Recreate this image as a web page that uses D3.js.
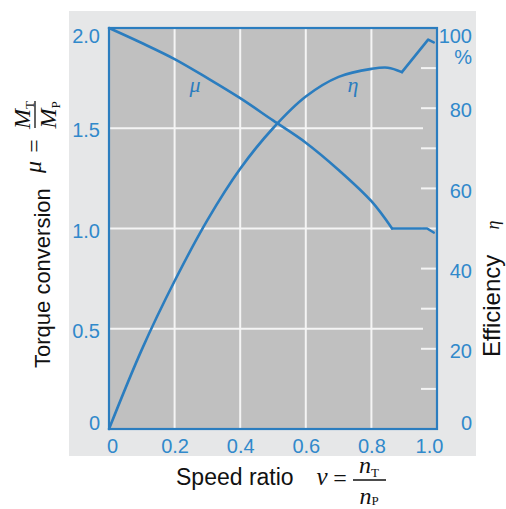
<!DOCTYPE html>
<html><head><meta charset="utf-8">
<script src="https://cdn.jsdelivr.net/npm/d3@7"></script>
<style>html,body{margin:0;padding:0;background:#fff;}svg{display:block;}</style>
</head><body>
<svg id="chart" width="506" height="509"></svg>
<script>
// ---- data ----
const muSpeed = [0, 0.1, 0.2, 0.3, 0.4, 0.5, 0.6, 0.7, 0.8, 0.863, 0.97, 0.99];
const muValues = [2.0, 1.925, 1.845, 1.75, 1.65, 1.539, 1.428, 1.292, 1.136, 1.0, 1.0, 0.98];
const muKink = 9; // index where smooth part ends
const etaSpeed = [0, 0.1, 0.2, 0.3, 0.4, 0.5, 0.6, 0.7, 0.8, 0.85, 0.893, 0.973, 0.99];
const etaValues = [0, 19.8, 36.9, 52.1, 64.9, 75.0, 82.9, 87.8, 89.8, 90.1, 89, 97.1, 96.4];
const etaKink = 10;
const xTicks = [0, 0.2, 0.4, 0.6, 0.8, 1.0];
const xTickLabels = ["0", "0.2", "0.4", "0.6", "0.8", "1.0"];
const leftTicks = [0, 0.5, 1.0, 1.5, 2.0];
const leftTickLabels = ["0", "0.5", "1.0", "1.5", "2.0"];
const rightTicks = [0, 20, 40, 60, 80, 100];
const rightTickLabels = ["0", "20", "40", "60", "80", "100"];
const rightMinorTicks = [10, 20, 30, 40, 50, 60, 70, 80, 90];

const BLUE = "#2b7dbf", TEXTBLUE = "#3189cb";
const svg = d3.select("#chart");
const x = d3.scaleLinear().domain([0, 1]).range([109, 437]);
const yL = d3.scaleLinear().domain([0, 2]).range([429, 28]);
const yR = d3.scaleLinear().domain([0, 100]).range([429, 28]);

// panel
svg.append("rect").attr("x", 69).attr("y", 11).attr("width", 407).attr("height", 445).attr("fill", "#e6e7e8");
svg.append("rect").attr("x", x(0)).attr("y", yL(2)).attr("width", x(1) - x(0)).attr("height", yL(0) - yL(2)).attr("fill", "#c0c0c0");

// grid
const grid = svg.append("g").attr("stroke", "#f4f4f4").attr("stroke-width", 2);
grid.selectAll(".vx").data(xTicks.slice(1, -1)).enter().append("line")
  .attr("x1", d => x(d)).attr("x2", d => x(d)).attr("y1", yL(2)).attr("y2", yL(0));
grid.selectAll(".hy").data(leftTicks.slice(1, -1)).enter().append("line")
  .attr("x1", x(0)).attr("x2", 423).attr("y1", d => yL(d)).attr("y2", d => yL(d));
grid.selectAll(".rt").data(rightMinorTicks).enter().append("line")
  .attr("x1", 421).attr("x2", x(1)).attr("y1", d => yR(d)).attr("y2", d => yR(d));

// curves
function drawSeries(xs, ys, yScale, kink) {
  const pts = xs.map((v, i) => [x(v), yScale(ys[i])]);
  const smooth = d3.line().curve(d3.curveCatmullRom.alpha(0.5));
  const lin = d3.line();
  svg.append("path").attr("d", smooth(pts.slice(0, kink + 1)))
    .attr("fill", "none").attr("stroke", BLUE).attr("stroke-width", 2.6).attr("stroke-linecap", "round");
  svg.append("path").attr("d", lin(pts.slice(kink)))
    .attr("fill", "none").attr("stroke", BLUE).attr("stroke-width", 2.6).attr("stroke-linecap", "round").attr("stroke-linejoin", "round");
}
drawSeries(muSpeed, muValues, yL, muKink);
drawSeries(etaSpeed, etaValues, yR, etaKink);

// border
svg.append("rect").attr("x", x(0)).attr("y", yL(2)).attr("width", x(1) - x(0)).attr("height", yL(0) - yL(2))
  .attr("fill", "none").attr("stroke", BLUE).attr("stroke-width", 2.2);

// axes
const tickFont = "'Liberation Sans', Arial, sans-serif";
const axL = svg.append("g").attr("transform", `translate(${x(0)},0)`)
  .call(d3.axisLeft(yL).tickValues(leftTicks).tickSize(0).tickPadding(9).tickFormat((d, i) => leftTickLabels[i]));
const axR = svg.append("g").attr("transform", `translate(${x(1)},0)`)
  .call(d3.axisRight(yR).tickValues(rightTicks).tickSize(0).tickFormat((d, i) => rightTickLabels[i]));
const axB = svg.append("g").attr("transform", `translate(0,${yL(0)})`)
  .call(d3.axisBottom(x).tickValues(xTicks).tickSize(0).tickFormat((d, i) => xTickLabels[i]));
[axL, axR, axB].forEach(a => {
  a.select(".domain").remove();
  a.selectAll("text").attr("fill", TEXTBLUE).style("font-family", tickFont).style("font-size", "20px");
});
axL.selectAll("text").attr("dy", d => d === 2 ? "0.71em" : d === 0 ? "0em" : "0.43em");
axR.selectAll("text").attr("text-anchor", "end").attr("x", 35)
  .attr("dy", d => d === 100 ? "0.71em" : d === 0 ? "0em" : "0.43em");
axB.selectAll("text").attr("y", 24).attr("dy", 0)
  .attr("dx", d => d === 0 ? 3 : d === 1 ? -8 : 0);
svg.append("text").attr("x", 472).attr("y", 64).attr("text-anchor", "end")
  .attr("fill", TEXTBLUE).style("font-family", tickFont).style("font-size", "20px").text("%");

// in-plot labels
const mathFont = "'Liberation Serif', 'Times New Roman', serif";
svg.append("text").attr("x", 195).attr("y", 92).attr("text-anchor", "middle").attr("fill", BLUE)
  .style("font-family", mathFont).style("font-style", "italic").style("font-size", "22px").text("μ");
svg.append("text").attr("x", 353).attr("y", 92).attr("text-anchor", "middle").attr("fill", BLUE)
  .style("font-family", mathFont).style("font-style", "italic").style("font-size", "22px").text("η");

// left title
const titleFont = "'Liberation Sans', Arial, sans-serif";
const lt = svg.append("g").attr("transform", "rotate(-90)");
lt.append("text").attr("x", -368).attr("y", 50).style("font-family", titleFont).style("font-size", "22px").attr("fill", "#111").text("Torque conversion");
lt.append("text").attr("x", -167).attr("y", 41).attr("text-anchor", "middle").style("font-family", mathFont).style("font-style", "italic").style("font-size", "24px").attr("fill", "#111").text("μ");
lt.append("text").attr("x", -146).attr("y", 42).attr("text-anchor", "middle").style("font-family", mathFont).style("font-size", "24px").attr("fill", "#111").text("=");
lt.append("line").attr("x1", -128).attr("x2", -101).attr("y1", 35).attr("y2", 35).attr("stroke", "#111").attr("stroke-width", 1.3);
const num = lt.append("text").attr("x", -115).attr("y", 30).attr("text-anchor", "middle").attr("fill", "#111").style("font-family", mathFont).style("font-size", "24px");
num.append("tspan").style("font-style", "italic").text("M");
num.append("tspan").style("font-size", "13px").attr("dy", 4).text("T");
const den = lt.append("text").attr("x", -115).attr("y", 56).attr("text-anchor", "middle").attr("fill", "#111").style("font-family", mathFont).style("font-size", "24px");
den.append("tspan").style("font-style", "italic").text("M");
den.append("tspan").style("font-size", "13px").attr("dy", 4).text("P");

// right title
const rt = svg.append("g").attr("transform", "rotate(-90)");
rt.append("text").attr("x", -357).attr("y", 500).style("font-family", titleFont).style("font-size", "24px").attr("fill", "#111").text("Efficiency");
rt.append("text").attr("x", -225).attr("y", 499).attr("text-anchor", "middle").style("font-family", mathFont).style("font-style", "italic").style("font-size", "18px").attr("fill", "#111").text("η");

// bottom title
svg.append("text").attr("x", 176).attr("y", 485).style("font-family", titleFont).style("font-size", "23px").attr("fill", "#111").text("Speed ratio");
svg.append("text").attr("x", 322).attr("y", 485).attr("text-anchor", "middle").style("font-family", mathFont).style("font-style", "italic").style("font-size", "25px").attr("fill", "#111").text("ν");
svg.append("text").attr("x", 340).attr("y", 486).attr("text-anchor", "middle").style("font-family", mathFont).style("font-size", "24px").attr("fill", "#111").text("=");
svg.append("line").attr("x1", 353).attr("x2", 386).attr("y1", 480).attr("y2", 480).attr("stroke", "#111").attr("stroke-width", 1.3);
const bn = svg.append("text").attr("x", 369).attr("y", 473).attr("text-anchor", "middle").attr("fill", "#111").style("font-family", mathFont).style("font-size", "24px");
bn.append("tspan").style("font-style", "italic").text("n");
bn.append("tspan").style("font-size", "13px").attr("dy", 4).text("T");
const bd = svg.append("text").attr("x", 369).attr("y", 504).attr("text-anchor", "middle").attr("fill", "#111").style("font-family", mathFont).style("font-size", "24px");
bd.append("tspan").style("font-style", "italic").text("n");
bd.append("tspan").style("font-size", "13px").attr("dy", 1).text("P");
</script>
</body></html>
